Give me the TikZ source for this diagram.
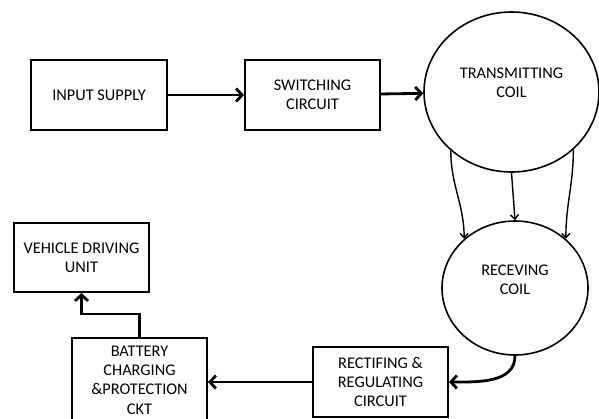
\documentclass[tikz,border=0pt]{standalone}
\usepackage{fontspec}
\setmainfont{Carlito}
\usetikzlibrary{arrows.meta,shapes.geometric}
\tikzset{
  blk/.style={draw,line width=2pt,minimum width=135pt,minimum height=70pt,
    align=center,inner sep=0pt},
  coil/.style={draw,ellipse,line width=1.6pt,inner sep=0pt},
  flow/.style={line width=2.8pt,-{Straight Barb[length=6pt,width=13pt]}},
  link/.style={line width=1.4pt,-{Straight Barb[length=4.5pt,width=8pt]}}
}

\begin{document}
\begin{tikzpicture}[x=1pt,y=-1pt,font=\fontsize{16.3}{19.3}\selectfont]
  \useasboundingbox (0,0) rectangle (599,418);
  \clip (0,0) rectangle (599,418);
  % blocks
  \node[blk,minimum width=136pt] (inp) at (99,95) {INPUT SUPPLY};
  \node[blk] (sw) at (312.5,95) {SWITCHING\\CIRCUIT};
  \node[blk] (rect) at (380.5,382) {RECTIFING \&\\REGULATING\\CIRCUIT};
  \node[blk,minimum height=84pt] (bat) at (139.5,380) {BATTERY\\CHARGING\\\&PROTECTION\\CKT};
  \node[blk,minimum height=69pt] (veh) at (81.5,257.5) {VEHICLE DRIVING\\UNIT};
  % coils
  \node[coil,minimum width=175pt,minimum height=160pt] (tx) at (511.5,92) {};
  \node[align=center] (txt) at ([yshift=9pt]tx.center) {TRANSMITTING\\COIL};
  \node[coil,minimum width=146pt,minimum height=134pt] (rx) at (515,288) {};
  \node[align=center] (rxt) at ([yshift=8pt]rx.center) {RECEVING\\COIL};
  % connections
  \draw[flow] (inp) -- (sw);
  \draw[flow] (sw) -- (tx);
  \draw[link] (tx.224) to[out=-90,in=90] (rx.136);
  \draw[link] (tx.south) -- (rx.north);
  \draw[link] (tx.-43) to[out=-90,in=90] (rx.44);
  \draw[flow] (rx.south) to[out=-90,in=0] (rect.east);
  \draw[flow] (rect) -- (rect.west -| bat.east);
  \draw[flow] (bat.north) -- ++(0,-23) -| (veh.south);
\end{tikzpicture}
\end{document}
